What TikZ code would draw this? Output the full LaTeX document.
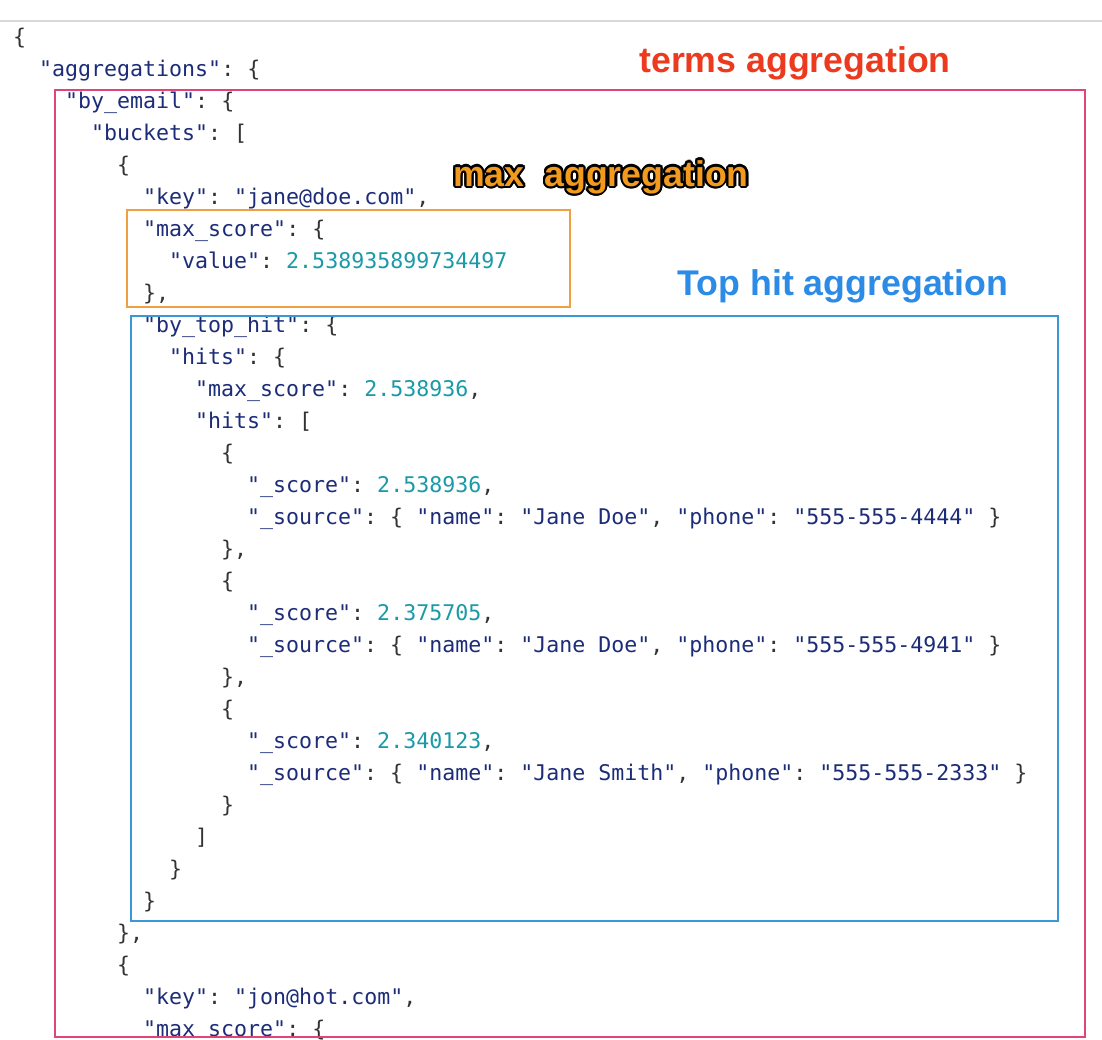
\documentclass[tikz,border=0pt]{standalone}
\usepackage{fontspec}
\setmonofont{DejaVu Sans Mono}
\setsansfont{Liberation Sans}
\usepackage{contour}
\contourlength{1.6pt}
\definecolor{keyc}{HTML}{1C2C78}
\definecolor{numc}{HTML}{1A9AA8}
\definecolor{punc}{HTML}{333333}
\definecolor{redc}{HTML}{EC3A1E}
\definecolor{orac}{HTML}{F29A1E}
\definecolor{bluc}{HTML}{2C8BE6}
\definecolor{redbox}{HTML}{E0457A}
\definecolor{orabox}{HTML}{F0A040}
\definecolor{blubox}{HTML}{3A98D8}
\newcommand{\jk}[1]{\textcolor{keyc}{"#1"}}
\newcommand{\jn}[1]{\textcolor{numc}{#1}}
\newcommand{\codeln}[3]{\node[cl] (l#1) at (13+26*#2,42+32*#1) {#3};}
\begin{document}
\begin{tikzpicture}[x=1pt,y=-1pt,
  cl/.style={anchor=mid west,inner sep=0pt,font=\fontsize{21.6}{24}\ttfamily,text=punc},
  lab/.style={inner sep=0pt,font=\fontsize{35.7}{38}\sffamily\bfseries}]
\useasboundingbox (0,0) rectangle (1102,1040);
\clip (0,0) rectangle (1102,1040);
\draw[gray!30,line width=1.5pt] (0,21) -- (1102,21);
\codeln{0}{0}{\{}
\codeln{1}{1}{\jk{aggregations}: \{}
\codeln{2}{2}{\jk{by\_email}: \{}
\codeln{3}{3}{\jk{buckets}: [}
\codeln{4}{4}{\{}
\codeln{5}{5}{\jk{key}: \jk{jane@doe.com},}
\codeln{6}{5}{\jk{max\_score}: \{}
\codeln{7}{6}{\jk{value}: \jn{2.538935899734497}}
\codeln{8}{5}{\},}
\codeln{9}{5}{\jk{by\_top\_hit}: \{}
\codeln{10}{6}{\jk{hits}: \{}
\codeln{11}{7}{\jk{max\_score}: \jn{2.538936},}
\codeln{12}{7}{\jk{hits}: [}
\codeln{13}{8}{\{}
\codeln{14}{9}{\jk{\_score}: \jn{2.538936},}
\codeln{15}{9}{\jk{\_source}: \{ \jk{name}: \jk{Jane Doe}, \jk{phone}: \jk{555-555-4444} \}}
\codeln{16}{8}{\},}
\codeln{17}{8}{\{}
\codeln{18}{9}{\jk{\_score}: \jn{2.375705},}
\codeln{19}{9}{\jk{\_source}: \{ \jk{name}: \jk{Jane Doe}, \jk{phone}: \jk{555-555-4941} \}}
\codeln{20}{8}{\},}
\codeln{21}{8}{\{}
\codeln{22}{9}{\jk{\_score}: \jn{2.340123},}
\codeln{23}{9}{\jk{\_source}: \{ \jk{name}: \jk{Jane Smith}, \jk{phone}: \jk{555-555-2333} \}}
\codeln{24}{8}{\}}
\codeln{25}{7}{]}
\codeln{26}{6}{\}}
\codeln{27}{5}{\}}
\codeln{28}{4}{\},}
\codeln{29}{4}{\{}
\codeln{30}{5}{\jk{key}: \jk{jon@hot.com},}
\codeln{31}{5}{\jk{max\_score}: \{}
\draw[redbox,line width=1.3pt] (55,90) rectangle (1085,1037);
\draw[orabox,line width=1.3pt] (127,210) rectangle (570,307);
\draw[blubox,line width=1.3pt] (131,316) rectangle (1058,921);
\node[lab,text=redc] (tl) at (795,64) {\contour{white}{terms aggregation}};
\node[lab,text=orac] (ml) at (601,178) {\contourlength{2.2pt}\contour{black}{max\ \ aggregation}};
\node[lab,text=bluc] (bl) at (843,287) {\contour{white}{Top hit aggregation}};
\end{tikzpicture}
\end{document}
